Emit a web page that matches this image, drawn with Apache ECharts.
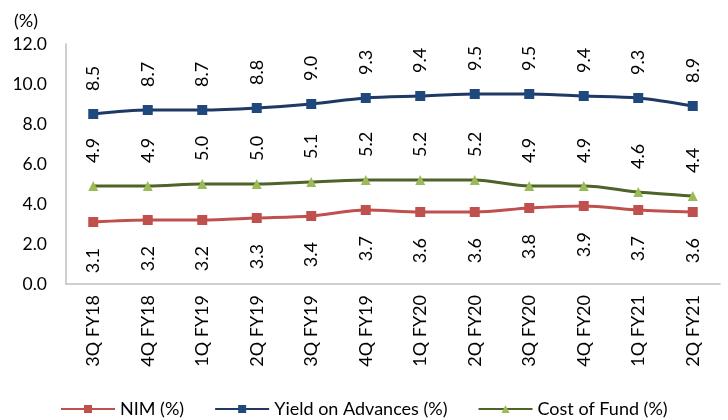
<!DOCTYPE html>
<html>
<head>
<meta charset="utf-8">
<script src="https://cdn.jsdelivr.net/npm/echarts@6/dist/echarts.min.js"></script>
<style>
  html, body { margin: 0; padding: 0; background: #fff; }
  #chart { width: 728px; height: 420px; }
</style>
</head>
<body>
<div id="chart"></div>
<script>
// Quarterly ratios
const quarters = ['3Q FY18', '4Q FY18', '1Q FY19', '2Q FY19', '3Q FY19', '4Q FY19',
                  '1Q FY20', '2Q FY20', '3Q FY20', '4Q FY20', '1Q FY21', '2Q FY21'];
const nim = [3.1, 3.2, 3.2, 3.3, 3.4, 3.7, 3.6, 3.6, 3.8, 3.9, 3.7, 3.6];
const yieldOnAdvances = [8.5, 8.7, 8.7, 8.8, 9.0, 9.3, 9.4, 9.5, 9.5, 9.4, 9.3, 8.9];
const costOfFund = [4.9, 4.9, 5.0, 5.0, 5.1, 5.2, 5.2, 5.2, 4.9, 4.9, 4.6, 4.4];
const yTicks = { min: 0, max: 12, interval: 2 };

const FONT = 'Lato, "Noto Sans", sans-serif';

function labelAbove() {
  return {
    show: true, position: 'top', distance: 18, rotate: 90,
    align: 'left', verticalAlign: 'middle',
    color: '#000', fontSize: 18, fontFamily: FONT,
    formatter: p => p.value.toFixed(1)
  };
}
function labelBelow() {
  return {
    show: true, position: 'bottom', distance: 21, rotate: 90,
    align: 'right', verticalAlign: 'middle',
    color: '#000', fontSize: 18, fontFamily: FONT,
    formatter: p => p.value.toFixed(1)
  };
}

const chart = echarts.init(document.getElementById('chart'), null, { renderer: 'canvas' });
chart.setOption({
  animation: false,
  backgroundColor: '#fff',
  textStyle: { fontFamily: FONT },
  graphic: [{
    type: 'text', left: 14, top: 12,
    style: { text: '(%)', fontSize: 18, fontFamily: FONT, fill: '#000' }
  }],
  grid: { left: 66, right: 8, top: 44, bottom: 136, containLabel: false },
  legend: {
    left: 55, top: 395,
    itemWidth: 54, itemHeight: 10, itemGap: 30,
    textStyle: { fontSize: 18, fontFamily: FONT, color: '#000' },
    data: ['NIM (%)', 'Yield on Advances (%)', 'Cost of Fund (%)']
  },
  xAxis: {
    type: 'category',
    data: quarters,
    boundaryGap: true,
    axisLine: { lineStyle: { color: '#BFBFBF', width: 1.5 } },
    axisTick: { show: false },
    axisLabel: { rotate: 90, color: '#000', fontSize: 18, fontFamily: FONT, margin: 11 }
  },
  yAxis: {
    type: 'value',
    min: yTicks.min, max: yTicks.max, interval: yTicks.interval,
    axisLine: { show: true, lineStyle: { color: '#BFBFBF', width: 1.5 } },
    axisTick: { show: false },
    splitLine: { show: false },
    axisLabel: { color: '#000', fontSize: 17.5, fontFamily: FONT, margin: 19,
                 formatter: v => v.toFixed(1) }
  },
  series: [
    {
      name: 'NIM (%)', type: 'line', data: nim, smooth: 0.3,
      symbol: 'rect', symbolSize: 10,
      lineStyle: { color: '#C0504D', width: 3 },
      itemStyle: { color: '#C0504D' },
      label: labelBelow()
    },
    {
      name: 'Yield on Advances (%)', type: 'line', data: yieldOnAdvances, smooth: 0.3,
      symbol: 'rect', symbolSize: 10,
      lineStyle: { color: '#1F3864', width: 3 },
      itemStyle: { color: '#1F497D' },
      label: labelAbove()
    },
    {
      name: 'Cost of Fund (%)', type: 'line', data: costOfFund, smooth: 0.3,
      symbol: 'triangle', symbolSize: 10,
      lineStyle: { color: '#4F6228', width: 3 },
      itemStyle: { color: '#9BBB59' },
      label: labelAbove()
    }
  ]
});
</script>
</body>
</html>
